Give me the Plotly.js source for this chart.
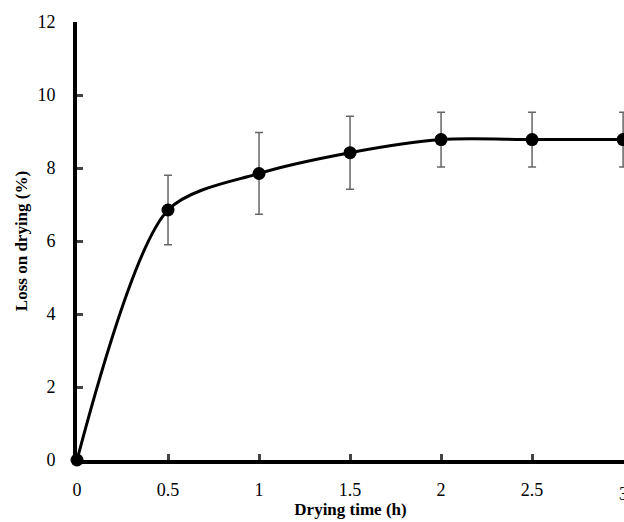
<!DOCTYPE html><html><head><script src="https://cdn.plot.ly/plotly-3.0.1.min.js"></script></head><body style="margin:0"><div id="c" style="width:624px;height:522px"></div><script>
const timeH=[0,0.5,1,1.5,2,2.5,3];
const loss=[0,6.85,7.85,8.42,8.78,8.78,8.78];
const errs=[0,0.95,1.12,1.0,0.75,0.75,0.75];
const xTickVals=[0,0.5,1,1.5,2,2.5];
const xTickText=['0','0.5','1','1.5','2','2.5'];
Plotly.newPlot('c',[{x:timeH,y:loss,type:'scatter',mode:'lines+markers',line:{shape:'spline',smoothing:0.8,color:'#000',width:3},marker:{size:13,color:'#000'},error_y:{type:'data',array:errs,visible:true,color:'#666',thickness:1.5,width:4},cliponaxis:false}],{
width:624,height:522,margin:{l:77,r:0,t:22,b:62},showlegend:false,plot_bgcolor:'#fff',paper_bgcolor:'#fff',
font:{family:'Liberation Serif',size:18,color:'#000'},
annotations:[{x:3,xref:'x',y:0,yref:'paper',yshift:-22,yanchor:'top',xanchor:'center',text:'3',showarrow:false,font:{size:18}}],
xaxis:{range:[0,3.005],tickvals:xTickVals.concat([3]),ticktext:xTickText.concat(['']),ticks:'inside',ticklen:6,tickwidth:3,ticklabelstandoff:10,showline:true,linewidth:4,linecolor:'#000',showgrid:false,zeroline:false,title:{text:'<b>Drying time (h)</b>',font:{size:17},standoff:0}},
yaxis:{range:[0,12],dtick:2,ticks:'inside',ticklen:6,tickwidth:3,ticklabelstandoff:14,showline:true,linewidth:4,linecolor:'#000',showgrid:false,zeroline:false,title:{text:'<b>Loss on drying (%)</b>',font:{size:17},standoff:6}}
},{displayModeBar:false});
</script></body></html>
